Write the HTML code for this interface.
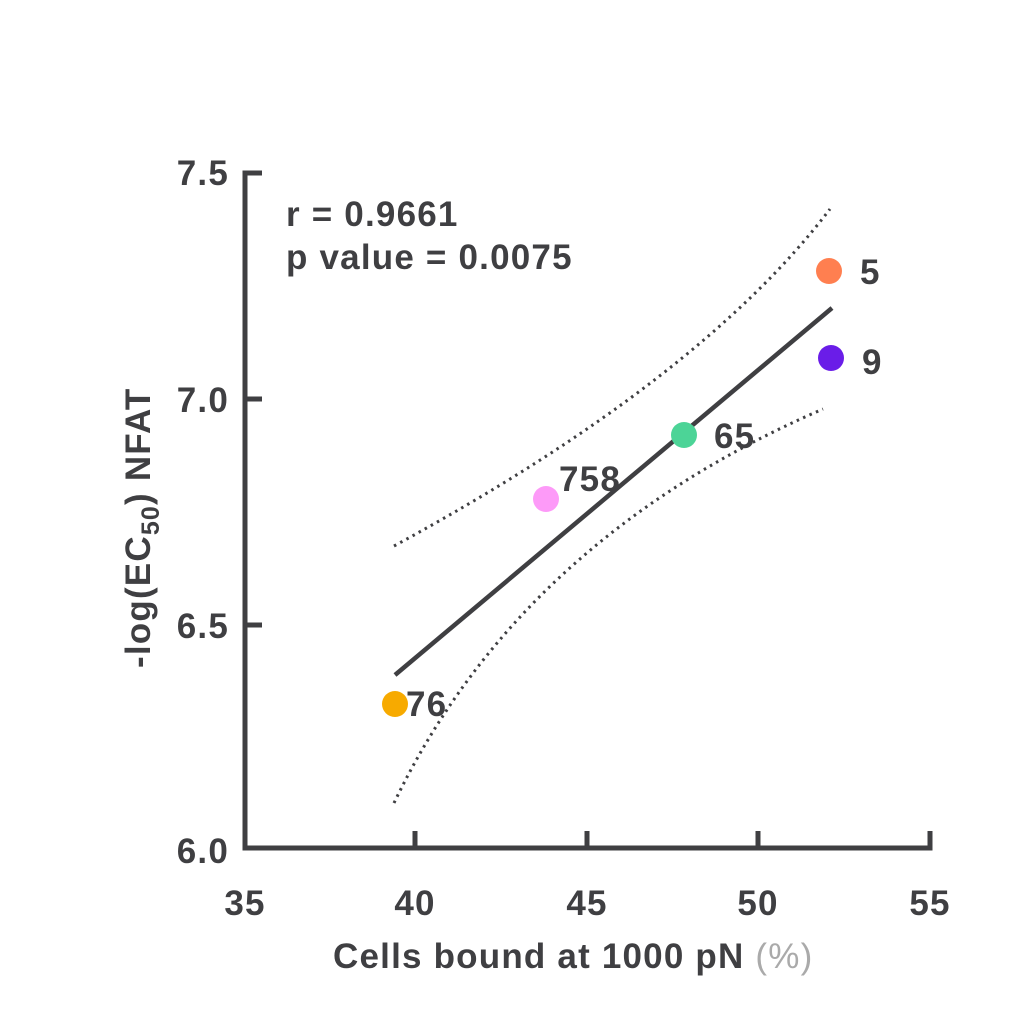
<!DOCTYPE html>
<html><head><style>body{margin:0;background:#fff}svg{display:block}</style></head><body>
<svg width="1024" height="1024" viewBox="0 0 1024 1024" xmlns="http://www.w3.org/2000/svg" font-family="Liberation Sans, sans-serif" font-weight="bold" fill="#3f3f42">
<g stroke="#3f3f42" stroke-width="5" fill="none">
<path d="M262,173 H245 V848 H930 V831"/>
<path d="M245,399 H262 M245,625 H262 M415,848 V831 M587,848 V831 M758,848 V831"/>
</g>
<path d="M395,675 L832,308" stroke="#3f3f42" stroke-width="4.5" fill="none"/>
<g stroke="#3f3f42" stroke-width="3" fill="none" stroke-dasharray="2.5 4.5">
<path d="M394,546 Q700,380 830,209"/>
<path d="M394,803 Q520,540 823,409"/>
</g>
<circle cx="829" cy="271" r="13" fill="#ff7f50"/>
<circle cx="831" cy="358" r="13" fill="#6a1de8"/>
<circle cx="684" cy="435" r="13" fill="#4cd497"/>
<circle cx="546" cy="499" r="13" fill="#fd9af8"/>
<circle cx="395" cy="704" r="13" fill="#f7aa00"/>
<g font-size="35" letter-spacing="1.2">
<text x="860" y="284">5</text>
<text x="862" y="374">9</text>
<text x="714" y="448">65</text>
<text x="559" y="491">758</text>
<text x="406" y="716">76</text>
<text x="286" y="226">r = 0.9661</text>
<text x="286" y="269">p value = 0.0075</text>
<g text-anchor="end">
<text x="229" y="185">7.5</text>
<text x="229" y="412">7.0</text>
<text x="229" y="638">6.5</text>
<text x="229" y="863">6.0</text>
</g>
<g text-anchor="middle">
<text x="245" y="915">35</text>
<text x="415" y="915">40</text>
<text x="587" y="915">45</text>
<text x="758" y="915">50</text>
<text x="930" y="915">55</text>
</g>
<text x="333" y="968">Cells bound at 1000 pN <tspan fill="#aaa" font-weight="normal">(%)</tspan></text>
<text transform="translate(150,668) rotate(-90)">-log(EC<tspan font-size="25" dy="9">50</tspan><tspan dy="-9">) NFAT</tspan></text>
</g>
</svg>
</body></html>
